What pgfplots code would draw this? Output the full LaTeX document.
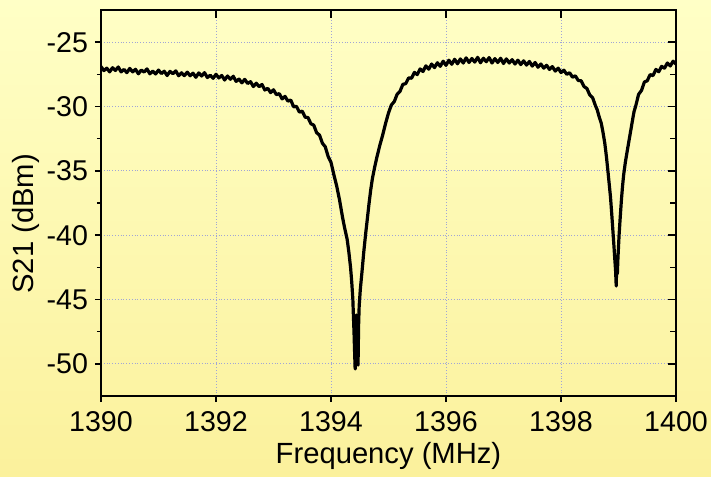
\documentclass[border=0pt]{standalone}
\usepackage{fontspec}
\setmainfont{Liberation Sans}
\usepackage{pgfplots}
\pgfplotsset{compat=1.18}

\definecolor{bgtop}{RGB}{255,255,198}
\definecolor{bgbot}{RGB}{251,241,156}
\definecolor{gridc}{RGB}{160,165,215}

\begin{document}
\begin{tikzpicture}
% page background
\shade[top color=bgtop, bottom color=bgbot] (-50.5pt,-40pt) rectangle (305pt,198pt);

\begin{axis}[
    at={(0,0)}, anchor=south west,
    scale only axis,
    width=287.5pt, height=193pt,
    xmin=1390, xmax=1400,
    ymin=-52.5, ymax=-22.5,
    xtick={1390,1392,...,1400},
    ytick={-50,-45,...,-25},
    minor x tick num=1,
    minor y tick num=1,
    xtick pos=bottom, ytick pos=left,
    tick align=outside,
    major tick length=3pt, minor tick length=2pt,
    axis line style={line width=0.8pt},
    every tick/.style={black, line width=0.8pt},
    xmajorgrids, ymajorgrids,
    major grid style={gridc, densely dotted, line width=0.5pt},
    /pgf/number format/assume math mode=true,
    /pgf/number format/1000 sep={},
    tick label style={font=\fontsize{14.3}{17}\selectfont},
    xticklabel style={anchor=north, yshift=-1pt},
    xlabel={Frequency (MHz)},
    ylabel={S21 (dBm)},
    label style={font=\fontsize{14.6}{17}\selectfont},
    xlabel style={at={(axis description cs:0.5,0)}, anchor=base, yshift=-34pt},
    ylabel style={at={(axis description cs:-0.106,0.446)}, anchor=south, inner sep=0pt},
]
\addplot[black, line width=1.6pt, line join=round] coordinates {
(1390.00,-26.90)(1390.05,-27.21)(1390.10,-27.02)(1390.15,-27.31)(1390.20,-26.99)
(1390.25,-27.20)(1390.30,-26.93)(1390.35,-27.31)(1390.40,-27.12)(1390.45,-27.37)
(1390.50,-27.04)(1390.55,-27.31)(1390.60,-27.11)(1390.65,-27.46)(1390.70,-27.17)
(1390.75,-27.32)(1390.80,-27.08)(1390.85,-27.46)(1390.90,-27.25)(1390.95,-27.47)
(1391.00,-27.17)(1391.05,-27.44)(1391.10,-27.26)(1391.15,-27.59)(1391.20,-27.27)
(1391.25,-27.45)(1391.30,-27.23)(1391.35,-27.61)(1391.40,-27.38)(1391.45,-27.60)
(1391.50,-27.33)(1391.55,-27.61)(1391.60,-27.41)(1391.65,-27.73)(1391.70,-27.39)
(1391.75,-27.63)(1391.80,-27.37)(1391.85,-27.75)(1391.90,-27.57)(1391.95,-27.81)
(1392.00,-27.50)(1392.05,-27.78)(1392.10,-27.59)(1392.15,-27.94)(1392.20,-27.63)
(1392.25,-27.88)(1392.30,-27.65)(1392.35,-28.05)(1392.40,-27.87)(1392.45,-28.16)
(1392.50,-27.89)(1392.55,-28.21)(1392.60,-28.07)(1392.65,-28.45)(1392.70,-28.19)
(1392.75,-28.46)(1392.80,-28.29)(1392.85,-28.72)(1392.90,-28.59)(1392.95,-28.92)
(1393.00,-28.70)(1393.05,-29.08)(1393.10,-29.00)(1393.15,-29.41)(1393.20,-29.21)
(1393.25,-29.58)(1393.30,-29.50)(1393.35,-30.02)(1393.40,-29.99)(1393.45,-30.44)
(1393.50,-30.36)(1393.55,-30.83)(1393.60,-30.86)(1393.65,-31.34)(1393.70,-31.45)
(1393.75,-32.04)(1393.80,-32.22)(1393.85,-32.85)(1393.90,-33.13)(1393.95,-33.88)
(1394.00,-34.34)(1394.05,-35.30)(1394.10,-36.20)(1394.15,-37.30)(1394.20,-38.60)
(1394.24,-39.50)(1394.28,-40.30)(1394.31,-41.30)(1394.34,-42.50)(1394.36,-43.60)
(1394.38,-45.00)(1394.39,-46.30)(1394.40,-47.50)(1394.41,-49.00)(1394.42,-50.40)
(1394.43,-48.00)(1394.44,-46.20)(1394.45,-48.50)(1394.46,-49.60)(1394.47,-50.10)
(1394.48,-47.00)(1394.49,-45.50)(1394.51,-44.20)(1394.54,-42.80)(1394.57,-41.30)
(1394.60,-40.00)(1394.63,-38.80)(1394.66,-37.60)(1394.69,-36.50)(1394.72,-35.60)
(1394.76,-34.70)(1394.80,-33.90)(1394.85,-33.00)(1394.90,-32.20)(1394.95,-31.30)
(1395.00,-30.50)(1395.05,-29.88)(1395.10,-29.62)(1395.15,-29.05)(1395.20,-28.82)
(1395.25,-28.28)(1395.30,-28.22)(1395.35,-27.78)(1395.40,-27.80)(1395.45,-27.35)
(1395.50,-27.52)(1395.55,-27.08)(1395.60,-27.28)(1395.65,-26.84)(1395.70,-27.10)
(1395.75,-26.70)(1395.80,-26.98)(1395.85,-26.60)(1395.90,-26.88)(1395.95,-26.48)
(1396.00,-26.80)(1396.05,-26.40)(1396.10,-26.72)(1396.15,-26.33)(1396.20,-26.68)
(1396.25,-26.30)(1396.30,-26.62)(1396.35,-26.22)(1396.40,-26.58)(1396.45,-26.27)
(1396.50,-26.55)(1396.55,-26.18)(1396.60,-26.60)(1396.65,-26.25)(1396.70,-26.52)
(1396.75,-26.20)(1396.80,-26.62)(1396.85,-26.28)(1396.90,-26.58)(1396.95,-26.25)
(1397.00,-26.66)(1397.05,-26.30)(1397.10,-26.62)(1397.15,-26.36)(1397.20,-26.70)
(1397.25,-26.40)(1397.30,-26.74)(1397.35,-26.45)(1397.40,-26.78)(1397.45,-26.50)
(1397.50,-26.86)(1397.55,-26.58)(1397.60,-26.95)(1397.65,-26.70)(1397.70,-27.02)
(1397.75,-26.80)(1397.80,-27.12)(1397.85,-26.90)(1397.90,-27.25)(1397.95,-27.02)
(1398.00,-27.36)(1398.05,-27.18)(1398.10,-27.50)(1398.15,-27.38)(1398.20,-27.72)
(1398.25,-27.62)(1398.30,-27.98)(1398.35,-28.00)(1398.40,-28.45)(1398.45,-28.60)
(1398.50,-29.10)(1398.55,-29.32)(1398.60,-29.95)(1398.63,-30.26)(1398.66,-30.75)
(1398.70,-31.30)(1398.73,-32.00)(1398.76,-32.80)(1398.79,-33.90)(1398.82,-35.20)
(1398.84,-36.10)(1398.86,-37.00)(1398.88,-38.20)(1398.90,-39.50)(1398.92,-40.80)
(1398.93,-41.50)(1398.95,-42.80)(1398.96,-43.95)(1398.97,-42.00)(1398.98,-43.00)
(1398.99,-41.80)(1399.00,-40.90)(1399.01,-40.00)(1399.03,-38.60)(1399.05,-37.30)
(1399.07,-36.20)(1399.09,-35.30)(1399.12,-34.30)(1399.15,-33.50)(1399.20,-32.20)
(1399.25,-30.90)(1399.27,-30.40)(1399.30,-29.95)(1399.35,-29.05)(1399.40,-28.75)
(1399.45,-28.10)(1399.50,-28.00)(1399.55,-27.52)(1399.60,-27.60)(1399.65,-27.12)
(1399.70,-27.30)(1399.75,-26.88)(1399.80,-27.02)(1399.85,-26.62)(1399.90,-26.85)
(1399.95,-26.48)(1400.00,-26.70)
};
\end{axis}

% mirrored ticks on top and right, pointing inward
\begin{axis}[
    at={(0,0)}, anchor=south west,
    scale only axis,
    width=287.5pt, height=193pt,
    xmin=1390, xmax=1400,
    ymin=-52.5, ymax=-22.5,
    xtick={1390,1392,...,1400},
    ytick={-50,-45,...,-25},
    minor x tick num=1,
    minor y tick num=1,
    xtick pos=top, ytick pos=right,
    tick align=inside,
    major tick length=4pt, minor tick length=3pt,
    axis line style={line width=0.8pt},
    every tick/.style={black, line width=0.8pt},
    xticklabels={}, yticklabels={},
]
\end{axis}

\pgfresetboundingbox
\path[use as bounding box] (-50.5pt,-40pt) rectangle (305pt,198pt);
\end{tikzpicture}
\end{document}
